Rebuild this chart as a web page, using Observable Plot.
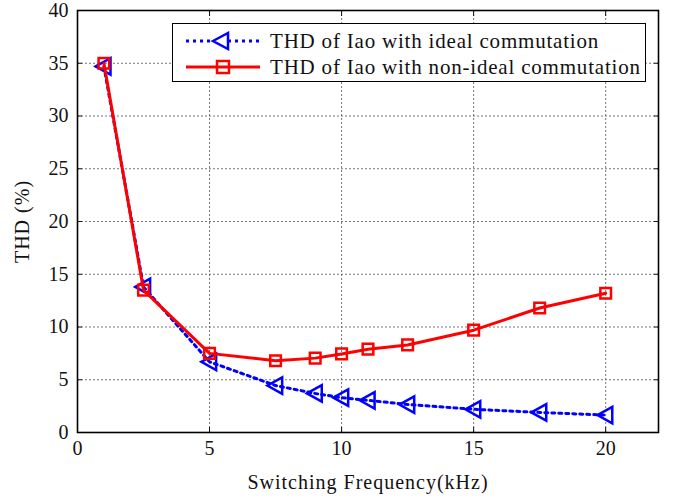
<!DOCTYPE html>
<html>
<head>
<meta charset="utf-8">
<script src="https://cdn.jsdelivr.net/npm/d3@7"></script>
<script src="https://cdn.jsdelivr.net/npm/@observablehq/plot@0.6"></script>
<style>
  body { margin: 0; background: #fff; }
  #wrap { position: relative; width: 678px; height: 500px; font-family: "Liberation Serif", "Times New Roman", serif; }
  #wrap g[aria-label="x-axis label"] text, #wrap g[aria-label="y-axis label"] text { letter-spacing: 1px; }
  #legend { position: absolute; left: 172px; top: 23px; width: 474px; height: 59px; border: 1.5px solid #000; background: #fff; box-sizing: border-box; }
  .row { position: absolute; left: 0; height: 26px; display: flex; align-items: center; }
  .row svg { margin-left: 13px; }
  .row span { margin-left: 10px; font-size: 21px; letter-spacing: 0.8px; color: #111; white-space: nowrap; }
</style>
</head>
<body>
<div id="wrap"></div>
<script>
// Switching frequency (kHz) and THD (%) of Iao
const freq = [1, 2.5, 5, 7.5, 9, 10, 11, 12.5, 15, 17.5, 20];
const thdIdeal = [34.7, 13.8, 6.7, 4.45, 3.7, 3.3, 3.05, 2.65, 2.2, 1.9, 1.65];
const thdNonIdeal = [35.0, 13.5, 7.5, 6.8, 7.05, 7.45, 7.9, 8.3, 9.7, 11.8, 13.2];
const xTicks = [0, 5, 10, 15, 20];
const yTicks = [0, 5, 10, 15, 20, 25, 30, 35, 40];
const seriesNames = ["THD of Iao with ideal commutation", "THD of Iao with non-ideal commutation"];

const ideal = freq.map((f, i) => ({f, thd: thdIdeal[i]}));
const nonIdeal = freq.map((f, i) => ({f, thd: thdNonIdeal[i]}));

// open triangle pointing left, like a "<" marker
const triLeft = {
  draw(ctx, size) {
    const r = Math.sqrt(size) * 0.62;
    ctx.moveTo(-r, 0);
    ctx.lineTo(r * 0.8, -r);
    ctx.lineTo(r * 0.8, r);
    ctx.closePath();
  }
};

const font = "Liberation Serif, Times New Roman, serif";

const chart = Plot.plot({
  width: 678,
  height: 500,
  marginLeft: 77,
  marginRight: 20,
  marginTop: 10,
  marginBottom: 68,
  style: {fontFamily: font, fontSize: "20px", color: "#111", background: "#fff"},
  x: {domain: [0, 22], ticks: xTicks},
  y: {domain: [0, 40], ticks: yTicks},
  marks: [
    Plot.gridX(xTicks, {stroke: "#555", strokeOpacity: 1, strokeWidth: 0.8, strokeDasharray: "2,2"}),
    Plot.gridY(yTicks, {stroke: "#555", strokeOpacity: 1, strokeWidth: 0.8, strokeDasharray: "2,2"}),
    Plot.axisX(xTicks, {tickSize: -5, tickPadding: 13, label: "Switching Frequency(kHz)", labelAnchor: "center", labelArrow: "none", labelOffset: 56, fontSize: 20}),
    Plot.axisX(xTicks, {anchor: "top", tickSize: -5, tickFormat: () => "", label: null}),
    Plot.axisY(yTicks, {tickSize: -5, tickPadding: 14, label: "THD (%)", labelAnchor: "center", labelArrow: "none", labelOffset: 63, fontSize: 20}),
    Plot.axisY(yTicks, {anchor: "right", tickSize: -5, tickFormat: () => "", label: null}),
    Plot.frame({stroke: "#000", strokeWidth: 1.6}),
    Plot.line(ideal, {x: "f", y: "thd", stroke: "#0000ff", strokeWidth: 3, strokeDasharray: "3,4"}),
    Plot.dot(ideal, {x: "f", y: "thd", symbol: triLeft, r: 7.5, stroke: "#0000ff", strokeWidth: 2.5, fill: "none"}),
    Plot.line(nonIdeal, {x: "f", y: "thd", stroke: "#ff0000", strokeWidth: 3}),
    Plot.dot(nonIdeal, {x: "f", y: "thd", symbol: "square", r: 6, stroke: "#ff0000", strokeWidth: 2.5, fill: "none"})
  ]
});

const wrap = document.getElementById("wrap");
wrap.appendChild(chart);

// legend box inside the plot area
const legend = document.createElement("div");
legend.id = "legend";
legend.innerHTML = `
  <div class="row" style="top:4px">
    <svg width="74" height="20" viewBox="0 0 74 20">
      <line x1="0" y1="10" x2="74" y2="10" stroke="#0000ff" stroke-width="3" stroke-dasharray="3,4"/>
      <path d="M27,10 L42,2 L42,18 Z" fill="#fff" stroke="#0000ff" stroke-width="2.5"/>
    </svg>
    <span>${seriesNames[0]}</span>
  </div>
  <div class="row" style="top:30px">
    <svg width="74" height="20" viewBox="0 0 74 20">
      <line x1="0" y1="10" x2="74" y2="10" stroke="#ff0000" stroke-width="3"/>
      <rect x="31" y="4" width="12" height="12" fill="none" stroke="#ff0000" stroke-width="2.5"/>
    </svg>
    <span>${seriesNames[1]}</span>
  </div>`;
wrap.appendChild(legend);
</script>
</body>
</html>
